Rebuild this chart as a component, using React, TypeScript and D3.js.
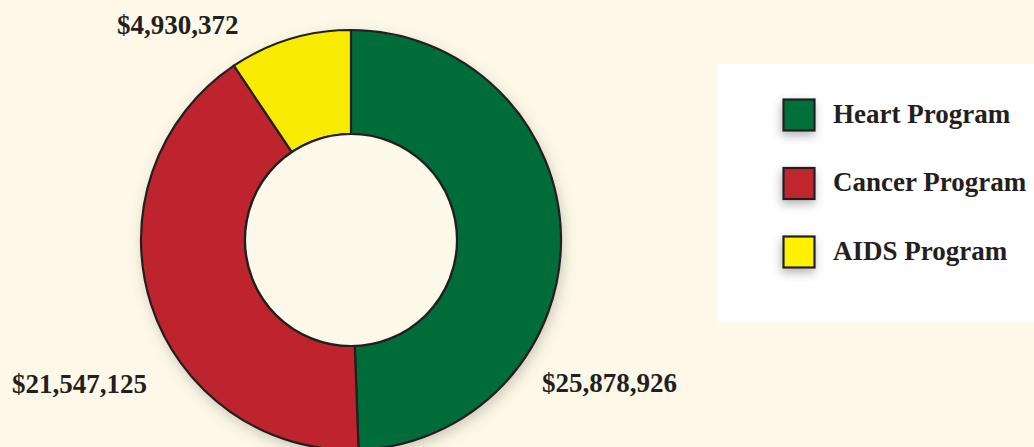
import React from "react";
import * as d3 from "d3";

const programs = ["Heart Program", "Cancer Program", "AIDS Program"];
const amounts = [25878926, 21547125, 4930372];
const colors = ["#006C3A", "#BD242E", "#F8EA00"];
const swatchColors = ["#00703A", "#C1272D", "#FFF200"];

const W = 1034;
const H = 447;

export default function App() {
  const cx = 351;
  const cy = 240;
  const outerR = 210;
  const innerR = 106;
  const fmt = (v: number) => "$" + d3.format(",")(v);

  const pie = d3.pie<number>().sort(null).value((d) => d);
  const arcs = pie(amounts);
  const arc = d3.arc<d3.PieArcDatum<number>>().innerRadius(innerR).outerRadius(outerR);

  // label anchor positions
  const labelPos = [
    { x: 542, y: 392, anchor: "start" },
    { x: 12, y: 393, anchor: "start" },
    { x: 117, y: 34, anchor: "start" },
  ];

  const legendX = 717;
  const legendY = 64;
  const legendStep = 68.5;

  return (
    <svg
      width={W}
      height={H}
      style={{ position: "absolute", left: 0, top: 0, display: "block" }}
      fontFamily="'Liberation Serif', 'DejaVu Serif', serif"
    >
      <defs>
        <filter id="ds" x="-20%" y="-20%" width="140%" height="140%">
          <feDropShadow dx="2" dy="5" stdDeviation="7" floodColor="#6b6450" floodOpacity="0.35" />
        </filter>
        <filter id="ds2" x="-60%" y="-60%" width="220%" height="220%">
          <feDropShadow dx="-1" dy="4" stdDeviation="5" floodColor="#555" floodOpacity="0.45" />
        </filter>
      </defs>
      <rect x={0} y={0} width={W} height={H} fill="#FDF8E8" />

      <g transform={`translate(${cx},${cy})`}>
        <circle r={outerR} fill="#FDF8E8" filter="url(#ds)" />
        {arcs.map((a, i) => (
          <path key={i} d={arc(a) || ""} fill={colors[i]} stroke="#231F20" strokeWidth={2.2} strokeLinejoin="round" />
        ))}
        <circle r={innerR} fill="#FCF8EA" stroke="#231F20" strokeWidth={2.2} />
      </g>

      {arcs.map((a, i) => (
        <text
          key={i}
          x={labelPos[i].x}
          y={labelPos[i].y}
          textAnchor={labelPos[i].anchor as any}
          fontSize={27}
          fontWeight="bold"
          fill="#231F20"
        >
          {fmt(amounts[i])}
        </text>
      ))}

      <rect x={legendX} y={legendY} width={W - legendX} height={258} fill="#FFFFFF" />
      {programs.map((p, i) => {
        const y = 99.5 + i * legendStep;
        return (
          <g key={p}>
            <rect
              x={783.5}
              y={y}
              width={31}
              height={31}
              fill={swatchColors[i]}
              stroke="#231F20"
              strokeWidth={2.2}
              filter="url(#ds2)"
            />
            <text x={833} y={y + 23} fontSize={27} fontWeight="bold" fill="#231F20">
              {p}
            </text>
          </g>
        );
      })}
    </svg>
  );
}
